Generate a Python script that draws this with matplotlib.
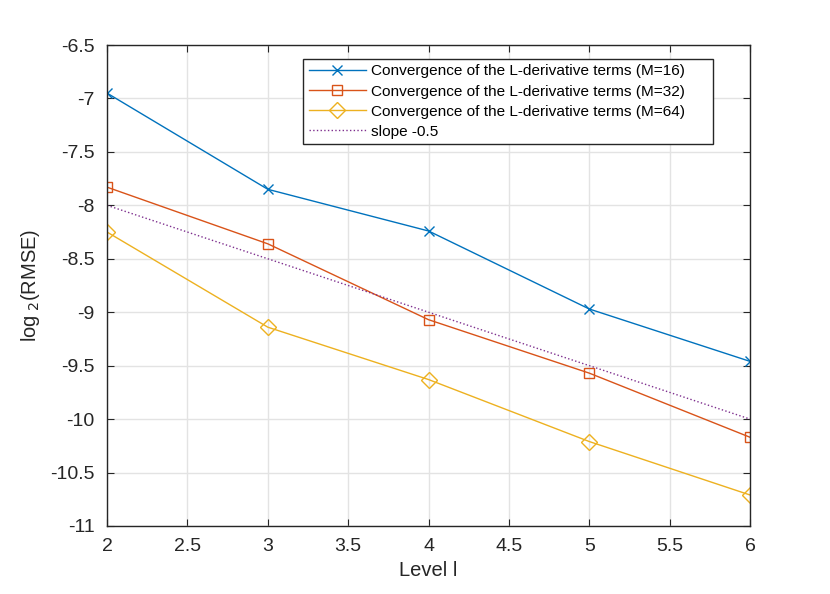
import numpy as np
import matplotlib
matplotlib.use('Agg')
import matplotlib.pyplot as plt

plt.rcParams['font.family'] = ['Liberation Sans', 'DejaVu Sans']

# data
levels = [2, 3, 4, 5, 6]
rmse_m16 = [-6.95, -7.85, -8.24, -8.97, -9.46]
rmse_m32 = [-7.83, -8.36, -9.07, -9.57, -10.17]
rmse_m64 = [-8.25, -9.14, -9.63, -10.21, -10.71]
slope_ref = [-8.0, -8.5, -9.0, -9.5, -10.0]

fig = plt.figure(figsize=(8.3, 5.94), dpi=100)
ax = fig.add_axes([0.129, 0.1145, 0.7747, 0.8097])

ax.plot(levels, rmse_m16, color='#0072BD', marker='x', markersize=7, lw=1,
        label='Convergence of the L-derivative terms (M=16)')
ax.plot(levels, rmse_m32, color='#D95319', marker='s', markersize=7, lw=1,
        markerfacecolor='none', label='Convergence of the L-derivative terms (M=32)')
ax.plot(levels, rmse_m64, color='#EDB120', marker='D', markersize=8, lw=1,
        markerfacecolor='none', label='Convergence of the L-derivative terms (M=64)')
ax.plot(levels, slope_ref, color='#7E2F8E', ls=':', lw=1, label='slope -0.5')

ax.set_xlim(2, 6)
ax.set_ylim(-11, -6.5)
ax.set_xticks(np.arange(2, 6.01, 0.5))
ax.set_yticks(np.arange(-11, -6.49, 0.5))
ax.set_xticklabels(['2', '2.5', '3', '3.5', '4', '4.5', '5', '5.5', '6'])
ax.set_yticklabels(['-11', '-10.5', '-10', '-9.5', '-9', '-8.5', '-8', '-7.5', '-7', '-6.5'])
ax.grid(True, color='#e3e3e3', lw=1)
ax.set_axisbelow(True)
ax.tick_params(direction='in', top=True, right=True, labelsize=14, colors='#262626', length=5)
ax.tick_params(axis='x', pad=9)
ax.tick_params(axis='y', pad=9)
for s in ax.spines.values():
    s.set_color('#262626')
    s.set_linewidth(1)

ax.set_xlabel('Level l', fontsize=14.5, color='#262626', labelpad=4)
ax.set_ylabel(r'log$_{\ 2}$(RMSE)', fontsize=14.5, color='#262626', labelpad=6)

leg = ax.legend(loc='upper left', bbox_to_anchor=(0.305, 0.794, 0.638, 0.177),
                mode='expand', fontsize=11.1,
                fancybox=False, edgecolor='#262626', framealpha=1,
                handlelength=3.7, handletextpad=0.35, borderpad=0.35,
                labelspacing=0.4, borderaxespad=0)
leg.get_frame().set_linewidth(1)

plt.savefig('out.png', dpi=100)
